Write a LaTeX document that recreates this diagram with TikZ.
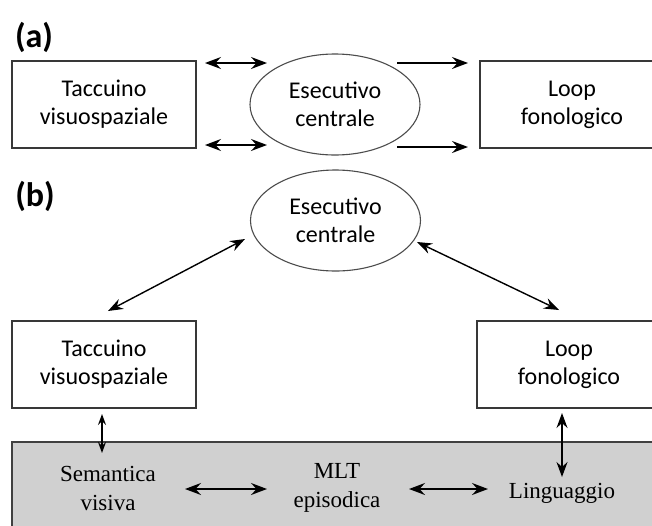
\documentclass[tikz,border=0pt]{standalone}
\usepackage{fontspec}
\setmainfont{Liberation Serif}
\newfontfamily\uisans{Carlito}
\usetikzlibrary{arrows.meta,shapes.geometric}
\definecolor{panelgray}{RGB}{208,208,208}
\begin{document}
\begin{tikzpicture}[x=1pt,y=-1pt]
\tikzset{
  box/.style={draw=black!78, line width=1.5pt, rectangle, minimum width=184pt, minimum height=87pt,
    align=center, inner sep=0pt, font=\uisans\fontsize{24}{28}\selectfont},
  ell/.style={draw=black!70, line width=1.1pt, ellipse, minimum width=170pt, minimum height=101pt,
    align=center, inner sep=0pt, font=\uisans\fontsize{24}{28}\selectfont},
  bigtip/.tip={Stealth[length=16pt,width=12pt,inset=5.5pt]},
  midtip/.tip={Stealth[length=15pt,width=11pt,inset=5pt]},
  smalltip/.tip={Stealth[length=11pt,width=8pt,inset=4pt]},
  arr/.style={line width=1.6pt, -bigtip},
  dbl/.style={line width=1.6pt, bigtip-bigtip},
  dblm/.style={line width=1.4pt, midtip-midtip},
  dbls/.style={line width=1.4pt, smalltip-smalltip},
  serif/.style={align=center, inner sep=0pt, font=\fontsize{23}{29}\selectfont},
  lbl/.style={inner sep=0pt, font=\uisans\bfseries\fontsize{34}{36}\selectfont},
  graybox/.style={fill=panelgray, draw=black!75, line width=1.4pt}
}
\useasboundingbox (0,0) rectangle (652,525);
\clip (0,0) rectangle (652,525);

% ---------- panel (a) ----------
\node[lbl] (la) at (34,37) {(a)};
\node[box] (ta) at (104,104.5) {Taccuino\\visuospaziale};
\node[ell] (ea) at (335,104.5) {Esecutivo\\centrale};
\node[box] (fa) at (572,104.5) {Loop\\fonologico};

\coordinate (p1) at (205,63);  \coordinate (p2) at (267,63);
\coordinate (p3) at (205,145); \coordinate (p4) at (267,145);
\coordinate (q1) at (397,63);  \coordinate (q2) at (468,63);
\coordinate (q3) at (397,147); \coordinate (q4) at (468,147);
\draw[dbl] (p1) -- (p2);
\draw[dbl] (p3) -- (p4);
\draw[arr] (q1) -- (q2);
\draw[arr] (q3) -- (q4);

% ---------- panel (b) ----------
\node[lbl] (lb) at (35,196) {(b)};
\node[ell] (eb) at (335.5,220.5) {Esecutivo\\centrale};
\node[box] (tb) at (104,364.5) {Taccuino\\visuospaziale};
\node[box] (fb) at (569,364.5) {Loop\\fonologico};

\path[graybox] (12,442) rectangle (680,545);
\node[serif] (sv) at (108,488) {Semantica\\visiva};
\node[serif] (mlt) at (337,488) {MLT\\episodica};
\node[serif] (lin) at (562,493) {Linguaggio};

\coordinate (e1) at (245,239); \coordinate (t1) at (108,311);
\coordinate (e2) at (417,242); \coordinate (f1) at (559,310);
\draw[dblm] (e1) -- (t1);
\draw[dblm] (e2) -- (f1);

\coordinate (v1) at (102,414); \coordinate (v2) at (102,453);
\coordinate (w1) at (562,413); \coordinate (w2) at (562,477);
\draw[dbls] (v1) -- (v2);
\draw[dblm] (w1) -- (w2);

\coordinate (h1) at (185,489); \coordinate (h2) at (267,489);
\coordinate (h3) at (409,489); \coordinate (h4) at (488,489);
\draw[dbl] (h1) -- (h2);
\draw[dbl] (h3) -- (h4);
\end{tikzpicture}
\end{document}
